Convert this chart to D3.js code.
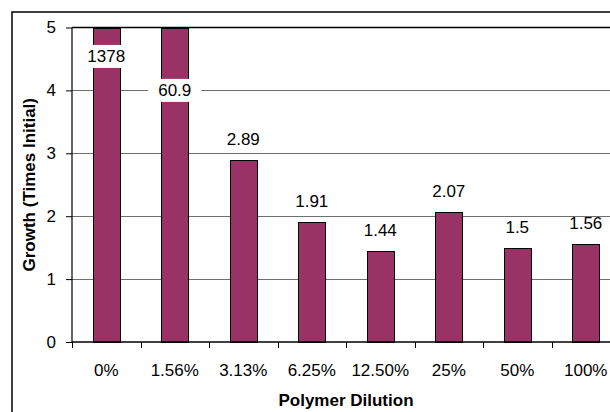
<!DOCTYPE html>
<html>
<head>
<meta charset="utf-8">
<script src="https://cdn.jsdelivr.net/npm/d3@7"></script>
<style>
  html, body { margin: 0; padding: 0; background: #fff; }
  svg { display: block; font-family: "Liberation Sans", Arial, sans-serif; }
</style>
</head>
<body>
<svg id="chart" width="610" height="412"></svg>
<script>
// Growth relative to initial, by polymer dilution
const categories = ["0%", "1.56%", "3.13%", "6.25%", "12.50%", "25%", "50%", "100%"];
const growth = [1378, 60.9, 2.89, 1.91, 1.44, 2.07, 1.5, 1.56];
const yTicks = [0, 1, 2, 3, 4, 5];
const yMax = 5;

(function draw() {
  const svg = d3.select("#chart");
  const plotLeft = 72, plotRight = 620, plotTop = 27.5, plotBottom = 342;

  // Outer chart frame (runs past the window edges on the right and bottom)
  svg.append("rect")
    .attr("x", 12).attr("y", 12)
    .attr("width", 700).attr("height", 500)
    .attr("fill", "#fff").attr("stroke", "#000").attr("stroke-width", 1.5);

  const x = d3.scaleBand().domain(categories).range([plotLeft, plotRight])
    .paddingInner(0.61).paddingOuter(0.305);
  const y = d3.scaleLinear().domain([0, yMax]).range([plotBottom, plotTop]);

  // Horizontal gridlines
  svg.append("g").selectAll("line")
    .data(yTicks.filter(t => t > 0 && t < yMax))
    .join("line")
    .attr("x1", plotLeft).attr("x2", plotRight)
    .attr("y1", d => Math.round(y(d)) + 0.5).attr("y2", d => Math.round(y(d)) + 0.5)
    .attr("stroke", "#6e6e6e").attr("stroke-width", 1);

  // Top edge of the plot area
  svg.append("line")
    .attr("x1", plotLeft).attr("x2", plotRight)
    .attr("y1", y(yMax)).attr("y2", y(yMax))
    .attr("stroke", "#000").attr("stroke-width", 1.6);

  // Bars, clipped to the axis maximum
  svg.append("g").selectAll("rect")
    .data(growth)
    .join("rect")
    .attr("x", (d, i) => Math.round(x(categories[i])) + 0.5)
    .attr("width", Math.round(x.bandwidth()))
    .attr("y", d => Math.round(y(Math.min(d, yMax))) + 0.5)
    .attr("height", d => Math.round(y(0)) - Math.round(y(Math.min(d, yMax))))
    .attr("fill", "#993366")
    .attr("stroke", "#000").attr("stroke-width", 1);

  // Y axis
  const yAxis = d3.axisLeft(y).tickValues(yTicks).tickSize(6).tickPadding(10)
    .tickFormat(d3.format("d"));
  const gy = svg.append("g").attr("transform", `translate(${plotLeft},0)`).call(yAxis);
  gy.select(".domain").attr("stroke", "#000").attr("stroke-width", 1.2)
    .attr("d", `M0,${plotTop}V${plotBottom}`);
  gy.selectAll(".tick line").attr("stroke", "#000");
  gy.selectAll(".tick text").attr("font-size", 17).attr("fill", "#000")
    .attr("font-family", "Liberation Sans, Arial, sans-serif");

  // X axis: ticks on category boundaries, labels at category centres
  const gx = svg.append("g");
  gx.append("line")
    .attr("x1", plotLeft).attr("x2", plotRight)
    .attr("y1", plotBottom).attr("y2", plotBottom)
    .attr("stroke", "#000").attr("stroke-width", 1.5);
  const boundaries = categories.map(c => x(c) - x.step() * x.paddingInner() / 2);
  boundaries.push(plotRight);
  gx.selectAll("line.tk")
    .data(boundaries)
    .join("line").attr("class", "tk")
    .attr("x1", d => Math.round(d) + 0.5).attr("x2", d => Math.round(d) + 0.5)
    .attr("y1", plotBottom).attr("y2", plotBottom + 6)
    .attr("stroke", "#000").attr("stroke-width", 1);
  svg.append("g").selectAll("text")
    .data(categories)
    .join("text")
    .attr("x", d => x(d) + x.bandwidth() / 2)
    .attr("y", 375.5)
    .attr("text-anchor", "middle")
    .attr("font-size", 17)
    .text(d => d);

  // Value labels
  const labelLayer = svg.append("g");
  growth.forEach((v, i) => {
    const cx = x(categories[i]) + x.bandwidth() / 2;
    if (v <= yMax) {
      labelLayer.append("text")
        .attr("x", cx).attr("y", y(v) - 15)
        .attr("text-anchor", "middle").attr("font-size", 17)
        .text(v);
    } else {
      // Off-scale values sit inside the bar on a white box
      const cy = i === 0 ? y(4.54) : y(4.0);
      const g = labelLayer.append("g");
      const t = g.append("text")
        .attr("x", cx).attr("y", cy)
        .attr("text-anchor", "middle").attr("dominant-baseline", "central")
        .attr("font-size", 17)
        .text(v);
      const bb = t.node().getBBox();
      g.insert("rect", "text")
        .attr("x", bb.x - 10).attr("y", cy - 11.5)
        .attr("width", bb.width + 20).attr("height", 23)
        .attr("fill", "#fff");
    }
  });

  // Axis titles
  svg.append("text")
    .attr("x", (plotLeft + plotRight) / 2).attr("y", 406)
    .attr("text-anchor", "middle")
    .attr("font-size", 17).attr("font-weight", "bold")
    .text("Polymer Dilution");
  svg.append("text")
    .attr("transform", `translate(34.5,${(plotTop + plotBottom) / 2}) rotate(-90)`)
    .attr("text-anchor", "middle")
    .attr("font-size", 17).attr("font-weight", "bold")
    .text("Growth (Times Initial)");
})();
</script>
</body>
</html>
